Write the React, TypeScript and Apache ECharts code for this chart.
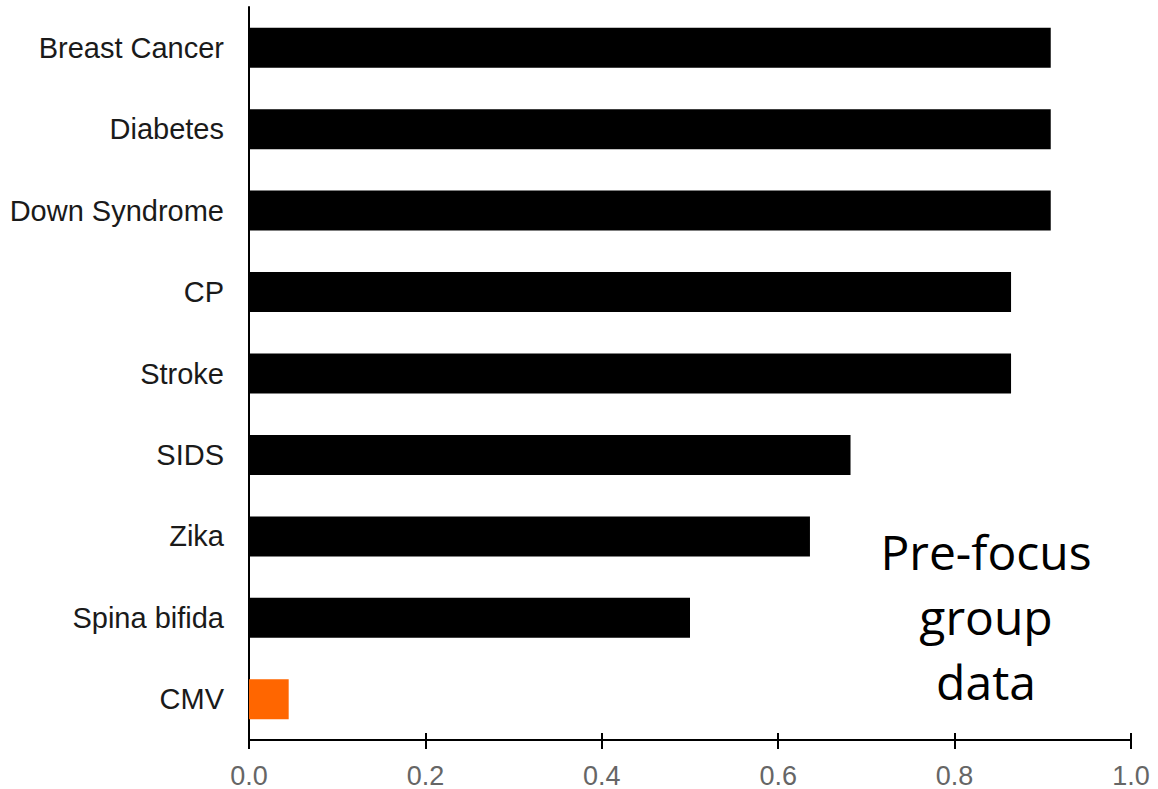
import React, { useEffect, useRef } from "react";
import * as echarts from "echarts";

const categories = ["Breast Cancer", "Diabetes", "Down Syndrome", "CP", "Stroke", "SIDS", "Zika", "Spina bifida", "CMV"];
const values = [0.909, 0.909, 0.909, 0.864, 0.864, 0.682, 0.636, 0.5, 0.045];
const barColors = ["#000000", "#000000", "#000000", "#000000", "#000000", "#000000", "#000000", "#000000", "#FF6600"];
const xTicks = [0, 0.2, 0.4, 0.6, 0.8, 1.0];
const noteLines = ["Pre-focus", "group", "data"];

export default function App() {
  const ref = useRef<HTMLDivElement>(null);
  useEffect(() => {
    if (!ref.current) return;
    const chart = echarts.init(ref.current, null, { renderer: "svg" });
    const axisLine = { show: true, lineStyle: { color: "#000", width: 2 } };
    chart.setOption({
      animation: false,
      backgroundColor: "#ffffff",
      grid: { left: 249, right: 27, top: 7, bottom: 49, containLabel: false },
      xAxis: [
        {
          type: "value",
          min: xTicks[0],
          max: xTicks[xTicks.length - 1],
          interval: 0.2,
          position: "bottom",
          axisLine,
          axisTick: { show: true, length: 9, lineStyle: { color: "#000", width: 2 } },
          splitLine: { show: false },
          axisLabel: {
            margin: 22,
            fontFamily: "Liberation Sans, Arial, sans-serif",
            fontSize: 27,
            color: "#666666",
            formatter: (v: number) => v.toFixed(1),
          },
        },
        {
          type: "value",
          min: xTicks[0],
          max: xTicks[xTicks.length - 1],
          interval: 0.2,
          position: "bottom",
          axisLine: { show: false },
          axisTick: { show: true, inside: true, length: 7, lineStyle: { color: "#000", width: 2 } },
          splitLine: { show: false },
          axisLabel: { show: false },
        },
      ],
      yAxis: {
        type: "category",
        data: categories,
        inverse: true,
        axisLine,
        axisTick: { show: false },
        axisLabel: {
          margin: 25,
          fontFamily: "Liberation Sans, Arial, sans-serif",
          fontSize: 29,
          color: "#1a1a1a",
        },
      },
      series: [
        {
          type: "bar",
          xAxisIndex: 0,
          barWidth: 40,
          data: values.map((v, i) => ({ value: v, itemStyle: { color: barColors[i] } })),
        },
      ],
      graphic: noteLines.map((t, i) => ({
        type: "text",
        x: 986,
        y: 551 + i * 65,
        style: {
          text: t,
          fontFamily: "Open Sans, Noto Sans, sans-serif",
          fontSize: 48,
          fill: "#000",
          textAlign: "center",
          textVerticalAlign: "middle",
        },
      })),
    });
    return () => chart.dispose();
  }, []);
  return <div ref={ref} style={{ width: 1158, height: 789, position: "absolute", left: 0, top: 0 }} />;
}
